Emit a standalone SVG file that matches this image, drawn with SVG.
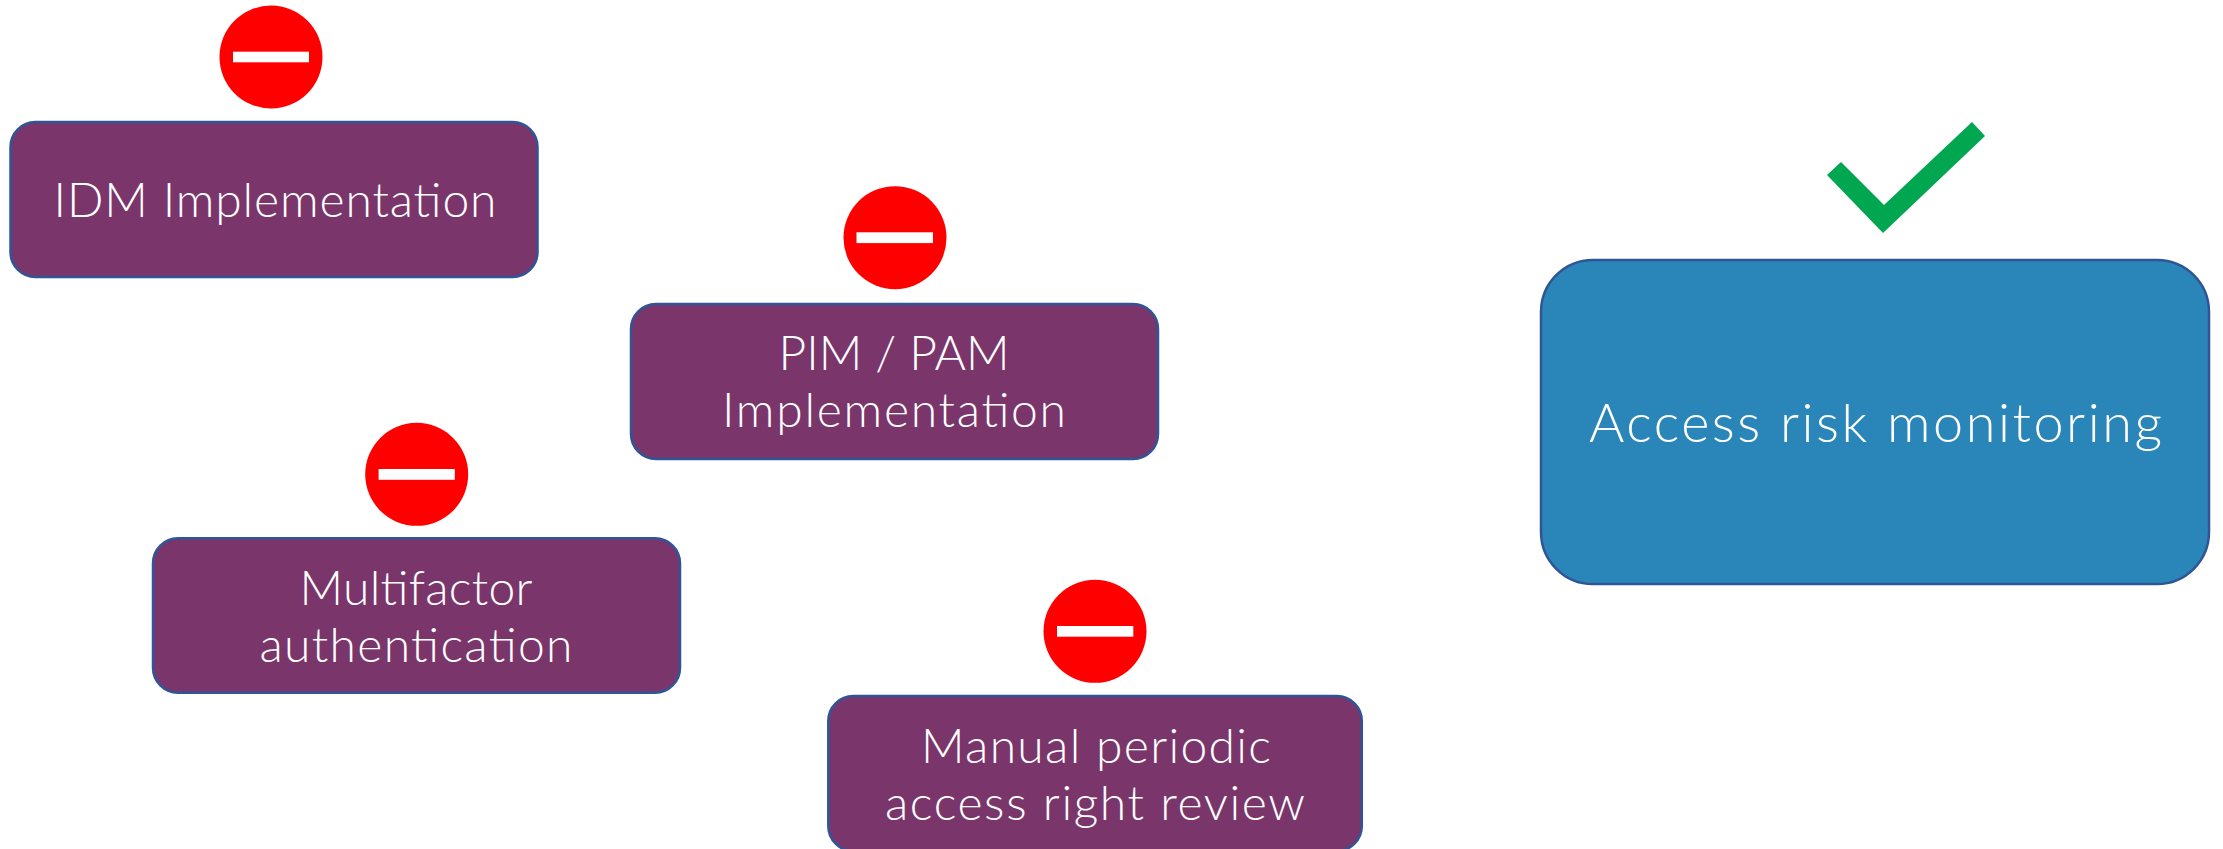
<svg xmlns="http://www.w3.org/2000/svg" width="2223" height="849" viewBox="0 0 2223 849">
<style>
.box{fill:#7A366B;stroke:#2F5597;stroke-width:2.5}
.blue{fill:#2A86B8;stroke:#2F5597;stroke-width:2.5}
.stop{fill:#FF0000}
.bar{fill:#FFFFFF}
.t{font-family:Lato,"Open Sans","Liberation Sans",sans-serif;font-weight:300;fill:#FFFFFF;font-size:48px;text-anchor:middle}
.tb{font-size:54px}
</style>
<rect width="2223" height="849" fill="#FFFFFF"/>
<g id="connectors"/>
<g id="idm">
<circle class="stop" cx="271" cy="57" r="51.5"/>
<rect class="bar" x="233" y="51.7" width="76" height="10.6"/>
<rect class="box" x="10.5" y="122" width="527" height="155" rx="25"/>
<text class="t" x="275" y="216.7" textLength="443" lengthAdjust="spacing">IDM Implementation</text>
</g>
<g id="pim">
<circle class="stop" cx="895" cy="237.7" r="51.5"/>
<rect class="bar" x="856.5" y="232.3" width="76.5" height="10.8"/>
<rect class="box" x="631" y="304" width="527" height="155" rx="25"/>
<text class="t" x="894" y="370">PIM / PAM</text>
<text class="t" x="894" y="427.3" textLength="344" lengthAdjust="spacing">Implementation</text>
</g>
<g id="mfa">
<circle class="stop" cx="416.7" cy="474.3" r="51.5"/>
<rect class="bar" x="378.6" y="469" width="76.2" height="10.8"/>
<rect class="box" x="153" y="538.3" width="527" height="154.5" rx="25"/>
<text class="t" x="416" y="605" textLength="233" lengthAdjust="spacing">Multifactor</text>
<text class="t" x="416" y="661.7" textLength="313" lengthAdjust="spacing">authentication</text>
</g>
<g id="review">
<circle class="stop" cx="1095" cy="631.3" r="51.5"/>
<rect class="bar" x="1057" y="626" width="76.3" height="10.7"/>
<rect class="box" x="828.3" y="696" width="533.5" height="155" rx="25"/>
<text class="t" x="1096" y="762.7" textLength="350" lengthAdjust="spacing">Manual periodic</text>
<text class="t" x="1095" y="820" textLength="420" lengthAdjust="spacing">access right review</text>
</g>
<g id="monitoring">
<polygon fill="#00A650" points="1827,175 1841,162 1884,205 1972,122 1985,136 1883,233"/>
<rect class="blue" x="1541" y="260" width="668" height="324" rx="52"/>
<text class="t tb" x="1875.5" y="441.7" textLength="573" lengthAdjust="spacing">Access risk monitoring</text>
</g>
</svg>
